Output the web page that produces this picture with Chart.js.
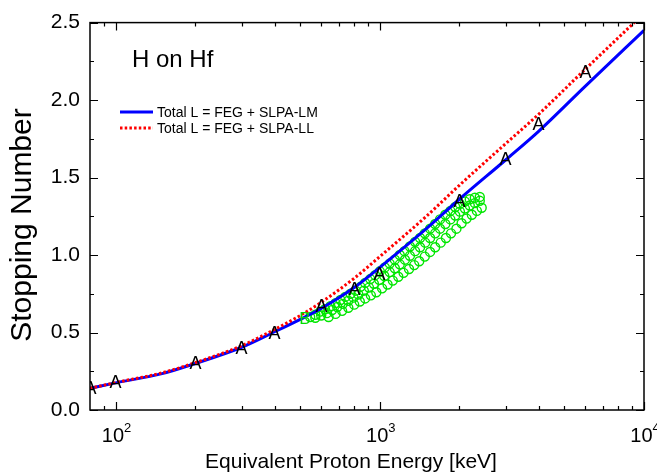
<!DOCTYPE html>
<html>
<head>
<meta charset="utf-8">
<title>H on Hf</title>
<script src="https://cdn.jsdelivr.net/npm/chart.js@4/dist/chart.umd.min.js"></script>
<style>
  html, body { margin: 0; padding: 0; background: #fff; }
  #contenedor { width: 657px; height: 474px; }
</style>
</head>
<body>
<div id="contenedor"><canvas id="grafico" width="657" height="474"></canvas></div>
<script>
// Curvas teóricas (energía en keV, número de frenado)
const energias = [80, 100, 150, 200, 300, 400, 500, 600, 800, 1000, 1500, 2000, 3000, 4000, 6000, 10000];
const totalLM = [0.14, 0.175, 0.235, 0.30, 0.405, 0.505, 0.585, 0.655, 0.79, 0.92, 1.17, 1.36, 1.615, 1.80, 2.09, 2.45];
const totalLL = [0.14, 0.177, 0.24, 0.305, 0.415, 0.52, 0.61, 0.695, 0.85, 0.99, 1.25, 1.45, 1.72, 1.91, 2.20, 2.56];

// Puntos marcados con "A"
const energiasA = [80, 100, 200, 300, 400, 600, 800, 1000, 2000, 3000, 4000, 6000];
const valoresA = [0.14, 0.18, 0.305, 0.40, 0.50, 0.67, 0.78, 0.88, 1.35, 1.62, 1.845, 2.18];

// Punto "B"
const energiasB = [520];
const valoresB = [0.60];

// Datos experimentales (círculos verdes), tres series
const expE1 = [545, 570, 595, 620, 650, 680, 710, 740, 775, 810, 845, 880, 920, 960, 1000, 1045, 1090, 1140, 1190, 1240, 1300, 1360, 1420, 1480, 1550, 1620, 1690, 1770, 1850, 1930, 2010, 2100, 2190, 2290, 2390];
const expY1 = [0.60, 0.615, 0.635, 0.65, 0.67, 0.69, 0.71, 0.73, 0.75, 0.77, 0.795, 0.82, 0.845, 0.87, 0.895, 0.92, 0.945, 0.97, 1.00, 1.025, 1.055, 1.085, 1.11, 1.14, 1.17, 1.20, 1.23, 1.26, 1.285, 1.31, 1.33, 1.345, 1.36, 1.37, 1.375];
const expE2 = [570, 600, 630, 660, 690, 725, 760, 795, 830, 870, 910, 950, 995, 1040, 1090, 1140, 1190, 1245, 1300, 1360, 1420, 1485, 1550, 1620, 1690, 1770, 1850, 1930, 2010, 2100, 2190, 2290, 2390];
const expY2 = [0.595, 0.61, 0.625, 0.645, 0.665, 0.685, 0.705, 0.725, 0.745, 0.77, 0.79, 0.815, 0.84, 0.865, 0.89, 0.915, 0.94, 0.97, 0.995, 1.025, 1.05, 1.08, 1.11, 1.14, 1.17, 1.20, 1.23, 1.255, 1.28, 1.30, 1.32, 1.335, 1.35];
const expE3 = [640, 680, 720, 760, 800, 840, 880, 925, 970, 1020, 1070, 1120, 1175, 1230, 1290, 1350, 1410, 1480, 1550, 1620, 1700, 1780, 1860, 1950, 2040, 2130, 2230, 2330, 2430];
const expY3 = [0.60, 0.62, 0.64, 0.66, 0.68, 0.70, 0.72, 0.74, 0.76, 0.785, 0.81, 0.835, 0.86, 0.885, 0.91, 0.935, 0.96, 0.99, 1.02, 1.05, 1.08, 1.11, 1.14, 1.17, 1.205, 1.235, 1.26, 1.285, 1.305];

// Marcas de los ejes
const decadasX = [100, 1000, 10000];
const exponentesX = ['2', '3', '4'];
const menoresX = [90, 200, 300, 400, 500, 600, 700, 800, 900, 2000, 3000, 4000, 5000, 6000, 7000, 8000, 9000];
const mayoresY = [0, 0.5, 1.0, 1.5, 2.0, 2.5];
const menoresY = [0.25, 0.75, 1.25, 1.75, 2.25];

const tituloX = 'Equivalent Proton Energy [keV]';
const tituloY = 'Stopping Number';

const FUENTE = '"Liberation Sans", Arial, Helvetica, sans-serif';

function puntos(xs, ys) {
    return xs.map((x, i) => ({ x: x, y: ys[i] }));
}

// Símbolo de letra para usar como pointStyle
function simboloLetra(letra, color, tam) {
    const c = document.createElement('canvas');
    c.width = Math.ceil(tam * 0.8);
    c.height = Math.ceil(tam);
    const g = c.getContext('2d');
    g.fillStyle = color;
    g.font = tam + 'px ' + FUENTE;
    g.textAlign = 'center';
    g.textBaseline = 'alphabetic';
    g.fillText(letra, c.width / 2, Math.round(c.height / 2 + tam * 0.716 / 2));
    return c;
}

const letraA = simboloLetra('A', '#000', 18);
const letraB = simboloLetra('B', 'rgb(0,220,0)', 17);

function serieVerde(xs, ys) {
    return {
        label: 'exp',
        data: puntos(xs, ys),
        showLine: false,
        pointStyle: 'circle',
        pointRadius: 4.5,
        pointBorderWidth: 1.4,
        pointBorderColor: 'rgb(0,230,0)',
        pointBackgroundColor: 'rgba(0,0,0,0)'
    };
}

// Sin suavizado para que las letras queden nítidas
const letrasNitidas = {
    id: 'letrasNitidas',
    beforeDatasetsDraw(chart) { chart.ctx.imageSmoothingEnabled = false; },
    afterDatasetsDraw(chart) { chart.ctx.imageSmoothingEnabled = true; }
};

// Marco, marcas hacia adentro, títulos, leyenda y etiqueta
const marcoOrigin = {
    id: 'marcoOrigin',
    afterDraw(chart) {
        const ctx = chart.ctx;
        const a = chart.chartArea;
        const sx = chart.scales.x;
        const sy = chart.scales.y;
        ctx.save();
        ctx.strokeStyle = '#000';
        ctx.lineWidth = 1.5;
        ctx.strokeRect(a.left, a.top, a.right - a.left, a.bottom - a.top);

        ctx.lineWidth = 1.2;
        const marcaX = (v, largo) => {
            const px = Math.round(sx.getPixelForValue(v)) + 0.5;
            ctx.beginPath();
            ctx.moveTo(px, a.bottom); ctx.lineTo(px, a.bottom - largo);
            ctx.moveTo(px, a.top); ctx.lineTo(px, a.top + largo);
            ctx.stroke();
        };
        const marcaY = (v, largo) => {
            const py = Math.round(sy.getPixelForValue(v)) + 0.5;
            ctx.beginPath();
            ctx.moveTo(a.left, py); ctx.lineTo(a.left + largo, py);
            ctx.moveTo(a.right, py); ctx.lineTo(a.right - largo, py);
            ctx.stroke();
        };
        decadasX.forEach(v => marcaX(v, 8));
        menoresX.forEach(v => marcaX(v, 4));
        mayoresY.forEach(v => marcaY(v, 8));
        menoresY.forEach(v => marcaY(v, 4));

        // Etiquetas 10^n
        ctx.fillStyle = '#000';
        ctx.textBaseline = 'alphabetic';
        ctx.textAlign = 'left';
        decadasX.forEach((v, i) => {
            const px = sx.getPixelForValue(v);
            ctx.font = '20px ' + FUENTE;
            const wBase = ctx.measureText('10').width;
            ctx.font = '13px ' + FUENTE;
            const wExp = ctx.measureText(exponentesX[i]).width;
            const inicio = px - (wBase + wExp) / 2 + 1;
            ctx.font = '20px ' + FUENTE;
            ctx.fillText('10', inicio, 442);
            ctx.font = '13px ' + FUENTE;
            ctx.fillText(exponentesX[i], inicio + wBase, 432);
        });

        // Títulos de los ejes
        ctx.textAlign = 'center';
        ctx.font = '21px ' + FUENTE;
        ctx.fillText(tituloX, 351, 468);
        ctx.save();
        ctx.translate(31, 225);
        ctx.rotate(-Math.PI / 2);
        ctx.font = '30px ' + FUENTE;
        ctx.fillText(tituloY, 0, 0);
        ctx.restore();

        // Título interno
        ctx.textAlign = 'left';
        ctx.font = '24px ' + FUENTE;
        ctx.fillText('H on Hf', 132, 67);

        // Leyenda de las curvas
        const lineas = chart.data.datasets.filter(d => d.showLine);
        lineas.reverse().forEach((d, i) => {
            const yy = 112 + i * 16;
            ctx.strokeStyle = d.borderColor;
            ctx.lineWidth = d.borderWidth;
            ctx.setLineDash(d.borderDash || []);
            ctx.beginPath();
            ctx.moveTo(120, yy); ctx.lineTo(153, yy);
            ctx.stroke();
            ctx.setLineDash([]);
            ctx.font = '14px ' + FUENTE;
            ctx.fillStyle = '#000';
            ctx.fillText(d.label, 157, yy + 5);
        });
        ctx.restore();
    }
};

new Chart(document.getElementById('grafico'), {
    type: 'scatter',
    data: {
        datasets: [
            {
                label: 'A',
                data: puntos(energiasA, valoresA),
                showLine: false,
                pointStyle: letraA,
                pointRadius: 8
            },
            {
                label: 'B',
                data: puntos(energiasB, valoresB),
                showLine: false,
                pointStyle: letraB,
                pointRadius: 8
            },
            {
                label: 'Total L = FEG + SLPA-LL',
                data: puntos(energias, totalLL),
                showLine: true,
                borderColor: 'rgb(255,0,0)',
                borderWidth: 3,
                borderDash: [2.5, 2.2],
                pointRadius: 0,
                cubicInterpolationMode: 'monotone'
            },
            {
                label: 'Total L = FEG + SLPA-LM',
                data: puntos(energias, totalLM),
                showLine: true,
                borderColor: 'rgb(0,0,255)',
                borderWidth: 3,
                pointRadius: 0,
                cubicInterpolationMode: 'monotone'
            },
            serieVerde(expE1, expY1),
            serieVerde(expE2, expY2),
            serieVerde(expE3, expY3)
        ]
    },
    options: {
        responsive: false,
        animation: false,
        devicePixelRatio: 1,
        layout: { padding: { top: 17, right: 13, left: 0, bottom: 0 } },
        plugins: {
            legend: { display: false },
            tooltip: { enabled: false }
        },
        scales: {
            x: {
                type: 'logarithmic',
                min: 80,
                max: 10000,
                grid: { display: false },
                border: { display: false },
                ticks: { display: false },
                afterFit: s => { s.height = 64; }
            },
            y: {
                min: 0,
                max: 2.5,
                grid: { display: false, drawTicks: false },
                border: { display: false },
                ticks: {
                    stepSize: 0.5,
                    color: '#000',
                    padding: 10,
                    font: { family: FUENTE, size: 21 },
                    callback: v => v.toFixed(1)
                },
                afterFit: s => { s.width = 90; }
            }
        }
    },
    plugins: [letrasNitidas, marcoOrigin]
});
</script>
</body>
</html>
